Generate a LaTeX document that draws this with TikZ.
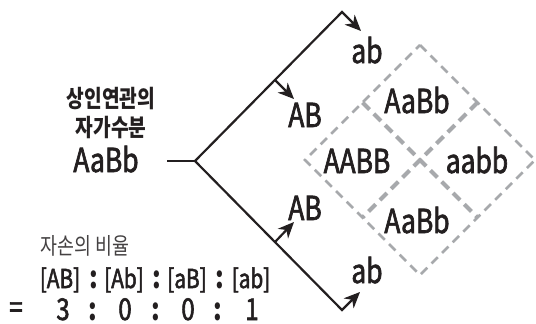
\documentclass[tikz,border=0pt]{standalone}
\usepackage{fontspec}
\setmainfont{Noto Sans CJK KR}
\newfontfamily\headfont{Noto Sans CJK KR}[FakeStretch=0.8]
\newfontfamily\labfont{Noto Sans CJK KR}[FakeStretch=0.8, FakeBold=2]
\usetikzlibrary{arrows.meta,positioning,calc}
\definecolor{ink}{HTML}{231F20}
\definecolor{dashgray}{HTML}{A7A9AC}

\begin{document}
\begin{tikzpicture}[
  x=1pt, y=-1pt,
  lbl/.style={
    font=\labfont\fontsize{33}{33}\selectfont, text=ink,
    inner sep=0pt, anchor=base},
  head/.style={
    font=\headfont\bfseries\fontsize{24}{24}\selectfont, text=ink,
    inner sep=0pt},
  ratio/.style={
    font=\labfont\fontsize{26}{26}\selectfont, text=ink,
    inner sep=0pt, anchor=base},
  digit/.style={
    font=\labfont\fontsize{30}{30}\selectfont, text=ink,
    inner sep=0pt, anchor=base},
  colon/.style={
    font=\headfont\bfseries\fontsize{31}{31}\selectfont, text=ink,
    inner sep=0pt, anchor=base},
  branch/.style={draw=ink, line width=2.2pt},
  arr/.style={
    -{Stealth[length=16pt, width=14pt, inset=5pt]},
    draw=ink, line width=2.2pt},
  outer/.style={
    draw=dashgray, line width=2.5pt, dash pattern=on 9pt off 6pt},
  inner/.style={
    draw=dashgray, line width=4pt, dash pattern=on 10pt off 6pt},
]
  \useasboundingbox (0,0) rectangle (536,324);

  \node[head] (self1) at (111,99)  {상인연관의};
  \node[head] (self2) at (111,127) {자가수분};
  \node[lbl]  (parent) at (106,172) {AaBb};

  \coordinate (stem) at (167,161);
  \coordinate (fork) at (195,161);
  \coordinate (topv) at (342,12);
  \coordinate (botv) at (342,310);
  \coordinate (upj)  at ($(fork)!0.544!(topv)$);
  \coordinate (lowj) at ($(fork)!0.544!(botv)$);
  \coordinate (t1) at (361,31);
  \coordinate (t2) at (294,99);
  \coordinate (t3) at (294,222);
  \coordinate (t4) at (360,292);

  \draw[branch] (stem) -- (fork);
  \draw[arr] (fork) -- (topv) -- (t1);
  \draw[arr] (fork) -- (botv) -- (t4);
  \draw[arr] (upj)  -- (t2);
  \draw[arr] (lowj) -- (t3);

  \node[lbl] (ab1) at (367,63)  {ab};
  \node[lbl] (AB1) at (305,127) {AB};
  \node[lbl] (AB2) at (305,220) {AB};
  \node[lbl] (ab2) at (367,283) {ab};

  \coordinate (dT) at (420,45);
  \coordinate (dR) at (535,160);
  \coordinate (dB) at (420,275);
  \coordinate (dL) at (305,160);
  \draw[outer] (dT) -- (dR) -- (dB) -- (dL) -- cycle;
  \draw[inner] ($(dT)!.5!(dL)$) -- ($(dR)!.5!(dB)$);
  \draw[inner] ($(dT)!.5!(dR)$) -- ($(dL)!.5!(dB)$);

  \node[lbl] (c1) at (417,113) {AaBb};
  \node[lbl] (c2) at (357,173) {AABB};
  \node[lbl] (c3) at (477,173) {aabb};
  \node[lbl] (c4) at (417,233) {AaBb};

  \node[font=\headfont\fontsize{23}{23}\selectfont, text=ink!85, inner sep=0pt]
      (cap) at (85,246) {자손의 비율};
  \foreach \x/\t [count=\i] in {60/{[AB]},124/{[Ab]},187/{[aB]},251/{[ab]}}
    \node[ratio] (g\i) at (\x,288) {\t};
  \foreach \x [count=\i] in {94,157,220}
    \node[colon] (s\i) at (\x,288) {:};
  \node[digit] (eq) at (16,318) {=};
  \foreach \x/\t [count=\i] in {63/3,125/0,188/0,252/1}
    \node[digit] (n\i) at (\x,320) {\t};
  \foreach \x [count=\i] in {93,156,218}
    \node[colon] (r\i) at (\x,320) {:};
\end{tikzpicture}
\end{document}
